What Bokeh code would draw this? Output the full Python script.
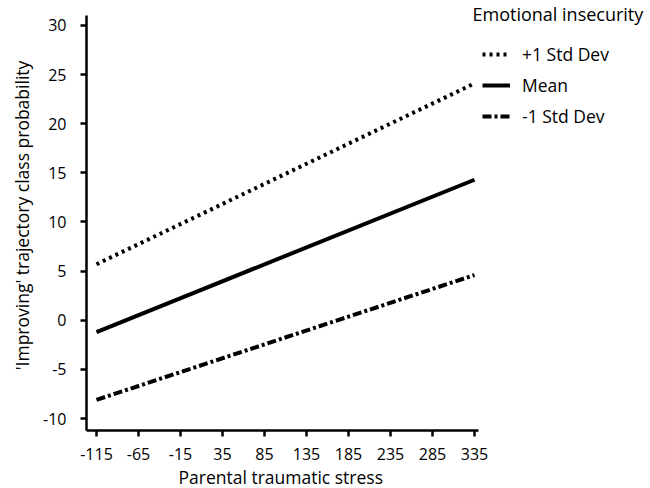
from bokeh.plotting import figure
from bokeh.models import Legend, LegendItem, FixedTicker, Range1d, Label, Title
from bokeh.embed import file_html
from bokeh.resources import INLINE

x_vals = [-115, 335]
plus_sd = [5.7, 24.1]
mean_vals = [-1.2, 14.3]
minus_sd = [-8.1, 4.6]
x_ticks = [-115, -65, -15, 35, 85, 135, 185, 235, 285, 335]
y_ticks = [-10, -5, 0, 5, 10, 15, 20, 25, 30]
labels = ["+1 Std Dev", "Mean", "-1 Std Dev"]
legend_title = "Emotional insecurity"
x_label = "Parental traumatic stress"
y_label = "'Improving' trajectory class probability"

FONT = "Open Sans"

p = figure(width=650, height=488, output_backend="svg", toolbar_location=None,
           x_range=Range1d(-126.9, 544.5), y_range=Range1d(-11.22, 32.54),
           min_border_left=86, min_border_right=0, min_border_top=0, min_border_bottom=57)
p.outline_line_color = None
p.xgrid.visible = False
p.ygrid.visible = False

r1 = p.line(x_vals, plus_sd, line_color="black", line_width=4, line_dash="3 4")
r2 = p.line(x_vals, mean_vals, line_color="black", line_width=4)
r3 = p.line(x_vals, minus_sd, line_color="black", line_width=4, line_dash="9 3 3 3")

for ax in (p.xaxis[0], p.yaxis[0]):
    ax.axis_line_width = 2.5
    ax.axis_line_color = "black"
    ax.major_tick_line_width = 2.5
    ax.major_tick_line_color = "black"
    ax.major_tick_out = 6
    ax.major_tick_in = 0
    ax.minor_tick_line_color = None
    ax.major_label_text_font = FONT
    ax.major_label_text_font_size = "16px"
    ax.major_label_text_color = "black"
    ax.axis_label_text_font = FONT
    ax.axis_label_text_font_size = "17.5px"
    ax.axis_label_text_font_style = "normal"
    ax.axis_label_text_color = "black"

p.xaxis.bounds = (-126.9, 340)
p.yaxis.bounds = (-11.22, 31.02)
p.xaxis.ticker = FixedTicker(ticks=x_ticks)
p.yaxis.ticker = FixedTicker(ticks=y_ticks)
p.xaxis.major_label_overrides = {t: str(t) for t in x_ticks}
p.yaxis.major_label_overrides = {t: str(t) for t in y_ticks}
p.yaxis.axis_label = y_label
p.xaxis.major_label_standoff = 11
p.yaxis.major_label_standoff = 14
p.yaxis.axis_label_standoff = 6

xt = Title(text=x_label, align="left", offset=92, standoff=0,
           text_font=FONT, text_font_size="17.5px", text_font_style="normal",
           text_color="black")
p.add_layout(xt, "below")

legend = Legend(items=[LegendItem(label=labels[0], renderers=[r1]),
                       LegendItem(label=labels[1], renderers=[r2]),
                       LegendItem(label=labels[2], renderers=[r3])],
                location=(396, 302),
                border_line_color=None, background_fill_alpha=0,
                label_text_font=FONT, label_text_font_size="17.5px",
                label_text_color="black",
                glyph_width=28, glyph_height=20, label_height=20, spacing=7,
                padding=0, margin=0, label_standoff=12)
p.add_layout(legend, "center")

title = Label(x=386, y=417, x_units="screen", y_units="screen", text=legend_title,
              text_font=FONT, text_font_size="18px", text_color="black",
              text_baseline="middle", text_align="left")
p.add_layout(title)

open("out.html", "w").write(file_html(p, INLINE))
